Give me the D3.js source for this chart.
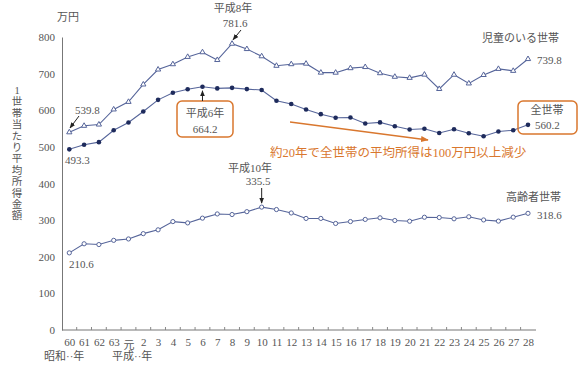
<!DOCTYPE html>
<html>
<head>
<meta charset="utf-8">
<script src="https://cdn.jsdelivr.net/npm/d3@7"></script>
<style>
  body { margin: 0; background: #fff; }
  text { font-family: "Liberation Serif", "Noto Sans CJK JP", serif; fill: #555; }
</style>
</head>
<body>
<svg id="canvas" width="585" height="366"></svg>
<script>
let years = ["60","61","62","63","元","2","3","4","5","6","7","8","9","10","11","12","13","14","15","16","17","18","19","20","21","22","23","24","25","26","27","28"]
let childHouseholds = [539.8,557.5,561.0,602.2,622.9,670.4,711.2,725.7,745.7,758.4,737.2,781.6,767.1,747.4,721.4,725.8,727.2,702.7,702.6,714.9,718.0,701.2,691.4,688.5,697.3,658.1,697.0,673.2,696.3,712.9,707.6,739.8]
let allHouseholds = [493.3,505.6,512.9,545.3,566.7,596.6,628.4,647.8,657.5,664.2,659.6,661.2,657.7,655.2,626.0,616.9,602.0,589.3,579.7,580.4,563.8,566.8,556.2,547.5,549.6,538.0,548.2,537.2,528.9,541.9,545.4,560.2]
let elderlyHouseholds = [210.6,235.4,233.3,244.8,248.6,263.1,273.5,296.0,292.4,305.4,316.9,315.3,323.1,335.5,328.9,319.5,304.6,304.6,290.9,296.1,301.9,306.3,298.9,297.0,307.9,307.2,303.6,309.1,300.5,297.3,308.1,318.6]
let yTicks = [0,100,200,300,400,500,600,700,800]

let canvas = d3.select("#canvas")
let lineColor = "#56659a"
let navy = "#1e2b5c"
let orange = "#d9772e"

let x = d3.scalePoint().domain(years).range([69.3, 528])
let y = d3.scaleLinear().domain([0, 800]).range([330, 37])
let step = x.step()

canvas.append("defs").selectAll("marker")
    .data([["arrowK", "#222"], ["arrowO", orange]])
    .enter()
    .append("marker")
    .attr("id", d => d[0])
    .attr("viewBox", "0 0 10 10")
    .attr("refX", 9).attr("refY", 5)
    .attr("markerWidth", 6).attr("markerHeight", 6)
    .attr("orient", "auto")
    .append("path")
    .attr("d", "M0,1 L10,5 L0,9 z")
    .attr("fill", d => d[1])

// axes
let yAxis = d3.axisLeft(y).tickValues(yTicks).tickSize(0).tickPadding(7)
let gy = canvas.append("g").attr("transform", "translate(62,0)").call(yAxis)
gy.select(".domain").attr("stroke", "#777")
gy.selectAll("text").attr("font-size", 11).style("fill", "#555")

let xAxis = d3.axisBottom(x).tickSize(0).tickPadding(8)
let gx = canvas.append("g").attr("transform", "translate(0,330)").call(xAxis)
gx.select(".domain").remove()
gx.selectAll("text").attr("font-size", 11).style("fill", "#555")
    .attr("dy", d => d === "元" ? "1.0em" : "0.71em")
canvas.append("line").attr("x1", 62).attr("x2", 536).attr("y1", 330).attr("y2", 330).attr("stroke", "#777")
canvas.selectAll(".bnd")
    .data(years.slice(1))
    .enter()
    .append("line")
    .attr("x1", d => x(d) - step / 2).attr("x2", d => x(d) - step / 2)
    .attr("y1", 330).attr("y2", 327)
    .attr("stroke", "#888")

// lines
let line = d3.line().x((d, i) => x(years[i])).y(d => y(d))
let seriesList = [childHouseholds, allHouseholds, elderlyHouseholds]
canvas.selectAll(".series")
    .data(seriesList)
    .enter()
    .append("path")
    .attr("d", d => line(d))
    .attr("fill", "none")
    .attr("stroke", lineColor)
    .attr("stroke-width", 1.1)

// markers
canvas.selectAll(".tri")
    .data(childHouseholds)
    .enter()
    .append("path")
    .attr("d", d3.symbol().type(d3.symbolTriangle).size(12))
    .attr("transform", (d, i) => "translate(" + x(years[i]) + "," + y(d) + ")")
    .attr("fill", "#fff")
    .attr("stroke", lineColor)
    .attr("stroke-width", 1)

canvas.selectAll(".dot")
    .data(allHouseholds)
    .enter()
    .append("circle")
    .attr("cx", (d, i) => x(years[i]))
    .attr("cy", d => y(d))
    .attr("r", 2.3)
    .attr("fill", navy)

canvas.selectAll(".ring")
    .data(elderlyHouseholds)
    .enter()
    .append("circle")
    .attr("cx", (d, i) => x(years[i]))
    .attr("cy", d => y(d))
    .attr("r", 2.1)
    .attr("fill", "#fff")
    .attr("stroke", lineColor)
    .attr("stroke-width", 1)

// texts
let addText = (t, px, py, opts) => {
    opts = opts || {}
    return canvas.append("text")
        .attr("x", px).attr("y", py)
        .attr("font-size", opts.size || 11)
        .attr("text-anchor", opts.anchor || "start")
        .style("fill", opts.color || "#555")
        .text(t)
}

addText("万円", 57, 21)
let yTitle = "1世帯当たり平均所得金額".split("")
yTitle.forEach((c, i) => {
    addText(c, 17, 94 + i * 11.4, {anchor: "middle", size: 10.5})
})

addText("昭和··年", 44, 360)
addText("平成··年", 112, 360)

addText("児童のいる世帯", 559, 42, {anchor: "end"})
addText("739.8", 537, 64)
addText("高齢者世帯", 561, 201, {anchor: "end"})
addText("318.6", 537, 219)

addText("539.8", 75, 114)
canvas.append("line").attr("x1", 79).attr("y1", 116).attr("x2", 70).attr("y2", 128)
    .attr("stroke", "#222").attr("marker-end", "url(#arrowK)")
addText("493.3", 65, 164)
addText("210.6", 69, 268)

addText("平成8年", 233, 12, {anchor: "middle"})
addText("781.6", 235, 27, {anchor: "middle"})
canvas.append("line").attr("x1", 241).attr("y1", 30).attr("x2", x("8") + 1).attr("y2", y(781.6) - 4)
    .attr("stroke", "#222").attr("marker-end", "url(#arrowK)")

addText("平成10年", 250, 172, {anchor: "middle"})
addText("335.5", 258, 185, {anchor: "middle"})
canvas.append("line").attr("x1", x("10")).attr("y1", 188).attr("x2", x("10")).attr("y2", y(335.5) - 4)
    .attr("stroke", "#222").attr("marker-end", "url(#arrowK)")

// boxes
canvas.append("rect").attr("x", 177).attr("y", 101).attr("width", 56).attr("height", 36)
    .attr("rx", 5).attr("fill", "#fff").attr("stroke", orange).attr("stroke-width", 1.5)
addText("平成6年", 205, 117, {anchor: "middle"})
addText("664.2", 205, 133, {anchor: "middle"})
canvas.append("line").attr("x1", x("6")).attr("y1", 101).attr("x2", x("6")).attr("y2", y(664.2) + 4)
    .attr("stroke", "#222").attr("marker-end", "url(#arrowK)")

canvas.append("rect").attr("x", 518).attr("y", 101).attr("width", 59).attr("height", 33)
    .attr("rx", 5).attr("fill", "none").attr("stroke", orange).attr("stroke-width", 1.5)
addText("全世帯", 547, 114, {anchor: "middle"})
addText("560.2", 535, 129)

canvas.append("line").attr("x1", 290).attr("y1", 122).attr("x2", 428).attr("y2", 140)
    .attr("stroke", orange).attr("stroke-width", 1.3).attr("marker-end", "url(#arrowO)")
addText("約20年で全世帯の平均所得は100万円以上減少", 270, 157, {color: orange, size: 12.5})
</script>
</body>
</html>
